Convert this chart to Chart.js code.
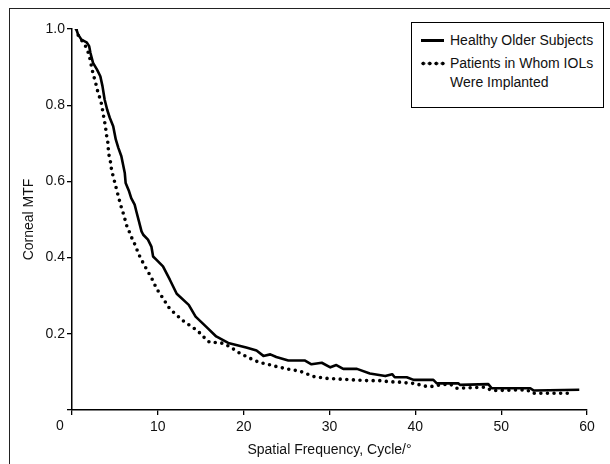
<!DOCTYPE html>
<html lang="en">
<head>
  <meta charset="UTF-8">
  <title>Corneal MTF</title>
  <script src="https://cdn.jsdelivr.net/npm/chart.js"></script>
  <style>
    html, body { margin: 0; padding: 0; background: #fff; }
    #wrap { position: relative; width: 610px; height: 464px; overflow: hidden; font-family: "Liberation Sans", Arial, sans-serif; color: #111; }
    #frame { position: absolute; left: 9px; top: 8px; width: 700px; height: 600px; border-left: 1.5px solid #222; border-top: 1.5px solid #222; }
    #legend { position: absolute; left: 411px; top: 22px; width: 191px; height: 84px; border: 1px solid #000; background: #fff; font-size: 14px; }
    #legend .txt { position: absolute; left: 38px; line-height: 19px; white-space: nowrap; }
    #legend .solid { position: absolute; left: 9px; top: 16px; width: 23px; height: 3px; background: #000; }
    #legend .dots { position: absolute; left: 8px; top: 38px; width: 26px; height: 5px;
      background: radial-gradient(circle, #000 1.7px, transparent 2.2px) 0 0 / 6.5px 5px repeat-x; }
  </style>
</head>
<body>
  <div id="wrap">
    <div id="frame"></div>
    <canvas id="chart" width="610" height="464"></canvas>
    <div id="legend">
      <div class="solid"></div>
      <div class="txt" style="top:8px">Healthy Older Subjects</div>
      <div class="dots"></div>
      <div class="txt" style="top:31px">Patients in Whom IOLs<br>Were Implanted</div>
    </div>
  </div>

  <script>
    // Healthy older subjects (solid)
    const healthyX = [0.5, 0.7, 1.1, 1.7, 2.0, 2.15, 2.45, 2.9, 3.3, 3.55, 3.8, 4.1, 4.4, 4.8, 5.1, 5.4, 5.75,
      6.15, 6.25, 6.65, 6.9, 7.3, 7.5, 7.8, 8.1, 8.3, 8.85, 9.25, 9.45, 9.85, 10.6, 11.4, 12.2, 13.6, 14.4,
      15.8, 16.8, 18.2, 20.3, 21.5, 22.3, 23.1, 23.8, 25.2, 27.1, 27.9, 29.1, 30.1, 30.8, 31.6, 33.2, 34.7,
      36.5, 37.3, 37.6, 39.0, 39.8, 42.1, 42.5, 45.0, 45.2, 48.5, 48.9, 53.4, 53.8, 59.1];
    const healthyY = [1.0, 0.986, 0.972, 0.965, 0.955, 0.937, 0.911, 0.894, 0.876, 0.85, 0.815, 0.788, 0.767,
      0.745, 0.71, 0.688, 0.666, 0.622, 0.596, 0.574, 0.556, 0.539, 0.521, 0.495, 0.469, 0.46, 0.447, 0.429,
      0.403, 0.394, 0.377, 0.342, 0.305, 0.276, 0.245, 0.215, 0.193, 0.176, 0.164, 0.156, 0.142, 0.146, 0.139,
      0.13, 0.13, 0.12, 0.124, 0.112, 0.118, 0.108, 0.108, 0.096, 0.089, 0.094, 0.086, 0.086, 0.079, 0.079,
      0.07, 0.07, 0.066, 0.068, 0.057, 0.057, 0.051, 0.053];

    // Patients in whom IOLs were implanted (dotted)
    const iolX = [0.5, 0.6, 1.2, 1.75, 2.05, 2.25, 2.45, 2.65, 2.9, 3.05, 3.25, 3.45, 3.6, 3.75, 3.9, 4.0, 4.15,
      4.2, 4.3, 4.5, 4.6, 4.8, 5.0, 5.2, 5.4, 5.65, 5.9, 6.15, 6.4, 6.75, 7.05, 7.45, 7.7, 8.1, 8.5, 8.85,
      9.2, 9.55, 9.9, 10.4, 10.8, 11.2, 11.8, 12.4, 12.95, 13.65, 14.3, 14.9, 15.5, 16.05, 16.85, 17.6, 18.4,
      19.55, 20.7, 21.9, 22.7, 23.45, 25.0, 26.55, 27.35, 28.1, 29.7, 31.2, 32.8, 34.5, 35.9, 37.05, 38.2,
      39.4, 40.0, 40.75, 41.7, 42.9, 44.05, 44.85, 47.2, 48.15, 48.9, 53.0, 53.6, 58.4];
    const iolY = [1.0, 0.988, 0.968, 0.949, 0.926, 0.904, 0.883, 0.867, 0.846, 0.83, 0.819, 0.802, 0.782, 0.762,
      0.745, 0.723, 0.71, 0.692, 0.67, 0.649, 0.631, 0.613, 0.596, 0.578, 0.561, 0.539, 0.522, 0.502, 0.482,
      0.464, 0.447, 0.429, 0.412, 0.394, 0.377, 0.363, 0.35, 0.333, 0.317, 0.3, 0.286, 0.271, 0.257, 0.245,
      0.234, 0.223, 0.213, 0.202, 0.188, 0.177, 0.177, 0.175, 0.166, 0.149, 0.136, 0.124, 0.121, 0.116, 0.108,
      0.102, 0.095, 0.088, 0.083, 0.081, 0.079, 0.077, 0.077, 0.074, 0.073, 0.07, 0.07, 0.064, 0.061, 0.066,
      0.068, 0.057, 0.059, 0.06, 0.051, 0.053, 0.044, 0.044];

    const xTicks = [0, 10, 20, 30, 40, 50, 60];
    const yTicks = [0, 0.2, 0.4, 0.6, 0.8, 1.0];

    const toPoints = (xs, ys) => xs.map((x, i) => ({ x: x, y: ys[i] }));
    const FONT = "'Liberation Sans', Arial, sans-serif";
    const INK = '#111';

    // the "0" label sits a little left of its tick in the original
    const zeroLabel = {
      id: 'zeroLabel',
      afterDraw(chart) {
        const xs = chart.scales.x;
        const ctx = chart.ctx;
        ctx.save();
        ctx.font = '14px ' + FONT;
        ctx.fillStyle = INK;
        ctx.textAlign = 'center';
        ctx.textBaseline = 'top';
        ctx.fillText('0', xs.getPixelForValue(0) - 12, xs.top + 9);
        ctx.restore();
      }
    };

    new Chart(document.getElementById('chart'), {
      type: 'line',
      data: {
        datasets: [
          {
            label: 'Healthy Older Subjects',
            data: toPoints(healthyX, healthyY),
            borderColor: '#000',
            borderWidth: 2.6,
            pointRadius: 0,
            tension: 0,
            borderJoinStyle: 'round'
          },
          {
            label: 'Patients in Whom IOLs Were Implanted',
            data: toPoints(iolX, iolY),
            borderColor: '#000',
            borderWidth: 3.6,
            borderDash: [0, 6.6],
            borderCapStyle: 'round',
            pointRadius: 0,
            tension: 0
          }
        ]
      },
      options: {
        responsive: false,
        animation: false,
        layout: { padding: { left: 10, top: 29, right: 23, bottom: 0 } },
        plugins: { legend: { display: false }, tooltip: { enabled: false } },
        scales: {
          x: {
            type: 'linear',
            min: 0,
            max: 60,
            afterBuildTicks: (s) => { s.ticks = xTicks.map(v => ({ value: v })); },
            afterFit: (s) => { s.height = 54; },
            ticks: {
              font: { family: FONT, size: 14 },
              color: INK,
              padding: 4,
              maxRotation: 0,
              callback: (v) => v === 0 ? '' : String(v)
            },
            grid: { display: true, drawOnChartArea: false, drawTicks: true, tickLength: 5, color: '#000', lineWidth: 1.3 },
            border: { display: true, color: '#000', width: 1.5 },
            title: {
              display: true,
              text: 'Spatial Frequency, Cycle/\u00B0',
              font: { family: FONT, size: 14 },
              color: INK,
              padding: { top: 0, bottom: 5 }
            }
          },
          y: {
            min: 0,
            max: 1,
            afterBuildTicks: (s) => { s.ticks = yTicks.map(v => ({ value: v })); },
            afterFit: (s) => { s.width = 62; },
            ticks: {
              font: { family: FONT, size: 14 },
              color: INK,
              padding: 2,
              callback: (v) => v === 0 ? '' : Number(v).toFixed(1)
            },
            grid: { display: true, drawOnChartArea: false, drawTicks: true, tickLength: 5, color: '#000', lineWidth: 1.3 },
            border: { display: true, color: '#000', width: 1.5 },
            title: {
              display: true,
              text: 'Corneal MTF',
              font: { family: FONT, size: 14 },
              color: INK,
              padding: { top: 11, bottom: 0 }
            }
          }
        }
      },
      plugins: [zeroLabel]
    });
  </script>
</body>
</html>
